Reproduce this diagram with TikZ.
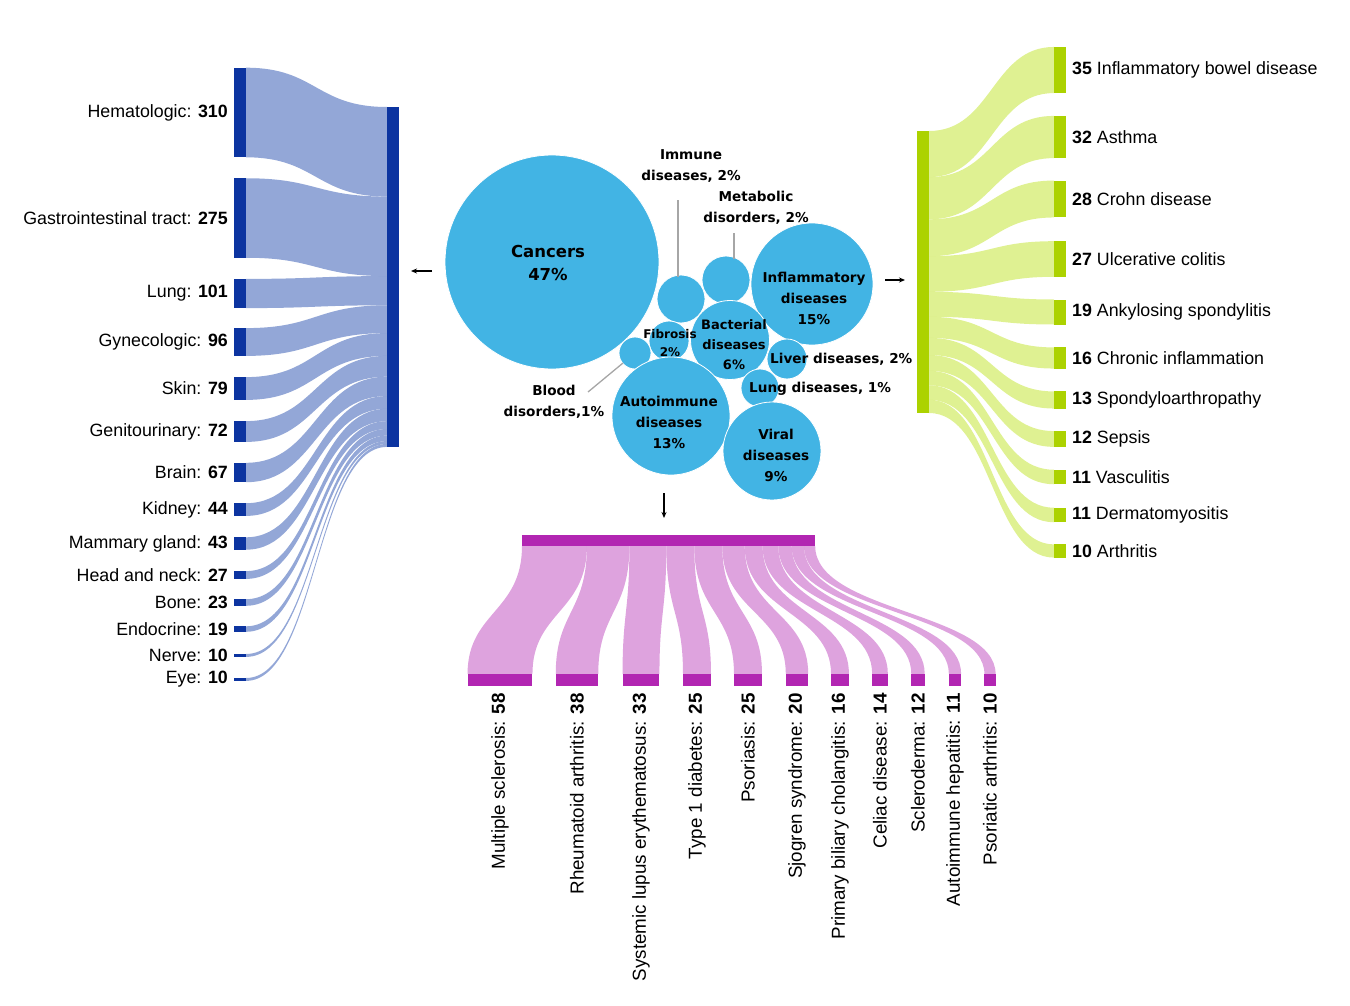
\documentclass[tikz,border=0pt]{standalone}
\usepackage{fontspec}
\setmainfont{Liberation Sans}
\newfontfamily\bub{DejaVu Sans}
\usetikzlibrary{arrows.meta}
\begin{document}
\begin{tikzpicture}[x=1pt,y=-1pt,
  lab/.style={font=\fontsize{17.8}{20}\selectfont, inner sep=1pt},
  blab/.style={font=\fontsize{18.8}{20}\selectfont, inner sep=1pt},
  btxt/.style={font=\bub\bfseries\fontsize{13.6}{21}\selectfont, align=center, inner sep=0pt},
  bub/.style={fill=bubc, draw=white, line width=0.8pt},
  lead/.style={draw=gray!70, line width=1.3pt},
  arr/.style={-{Stealth[length=6pt,width=5pt]}, line width=1.1pt}]
\definecolor{bubc}{RGB}{66,180,228}
\definecolor{lbar}{RGB}{12,52,160}
\definecolor{lflow}{RGB}{120,145,205}
\definecolor{rbar}{RGB}{172,210,0}
\definecolor{rflow}{RGB}{212,236,110}
\definecolor{bbar}{RGB}{178,38,178}
\definecolor{bflow}{RGB}{214,140,214}
\useasboundingbox (0,0) rectangle (1350,1006);
% ---------- left sankey ----------
\foreach \s/\w/\t/\n/\v in {67.7/89.6/107/Hematologic/310, 178.25/79.5/196.6/Gastrointestinal tract/275,
 278.9/29.2/276.1/Lung/101, 328.1/27.8/305.3/Gynecologic/96, 377.1/22.8/333.1/Skin/79,
 421.1/20.8/355.9/Genitourinary/72, 462.8/19.4/376.7/Brain/67, 503.2/12.7/396.1/Kidney/44,
 537.3/12.4/408.8/Mammary gland/43, 571.1/7.8/421.2/Head and neck/27, 599.2/6.6/429.0/Bone/23,
 626.3/5.5/435.6/Endocrine/19, 654/2.9/441.1/Nerve/10, 678/2.9/444.0/Eye/10}{
  \fill[lflow, opacity=0.8] (246,\s) .. controls (316,\s) and (316,\t) .. (387,\t)
     -- (387,\t+\w) .. controls (316,\t+\w) and (316,\s+\w) .. (246,\s+\w) -- cycle;
  \fill[lbar] (234,\s) rectangle (246,\s+\w);
  \node[lab, anchor=east] (l\v) at (229,\s+\w/2) {\n: \textbf{\v}};
}
\node[fill=lbar, minimum width=12pt, minimum height=340pt, inner sep=0pt, anchor=north west] (ltgt) at (387,107) {};
% ---------- right sankey ----------
\foreach \s/\w/\t/\n/\v in {131/46.1/46.95/Inflammatory bowel disease/35, 177.1/42.2/115.9/Asthma/32,
 219.3/36.9/180.55/Crohn disease/28, 256.2/35.6/241.2/Ulcerative colitis/27,
 291.8/25.0/299.5/Ankylosing spondylitis/19, 316.8/21.1/347.45/Chronic inflammation/16,
 337.9/17.1/391.45/Spondyloarthropathy/13, 355.0/15.8/431.1/Sepsis/12, 370.8/14.5/469.75/Vasculitis/11,
 385.3/14.5/507.75/Dermatomyositis/11, 399.8/13.2/544.4/Arthritis/10}{
  \fill[rflow, opacity=0.75] (929,\s) .. controls (992,\s) and (992,\t) .. (1054,\t)
     -- (1054,\t+\w) .. controls (992,\t+\w) and (992,\s+\w) .. (929,\s+\w) -- cycle;
  \fill[rbar] (1054,\t) rectangle (1066,\t+\w);
  \node[lab, anchor=west] (r\n) at (1071,\t+\w/2) {\textbf{\v} \n};
}
\node[fill=rbar, minimum width=12pt, minimum height=282pt, inner sep=0pt, anchor=north west] (rsrc) at (917,131) {};
% ---------- bottom sankey ----------
\foreach \s/\w/\t/\n/\v in {522/64.9/467.55/Multiple sclerosis/58, 586.9/42.5/555.75/Rheumatoid arthritis/38,
 629.4/36.9/622.55/Systemic lupus erythematosus/33, 666.3/28.0/683/Type 1 diabetes/25,
 694.3/28.0/734/Psoriasis/25, 722.3/22.4/785.8/Sjogren syndrome/20,
 744.7/17.9/831.05/Primary biliary cholangitis/16, 762.6/15.7/872.15/Celiac disease/14,
 778.3/13.4/911.3/Scleroderma/12, 791.7/12.3/948.85/Autoimmune hepatitis/11, 804.0/11.2/984.4/Psoriatic arthritis/10}{
  \fill[bflow, opacity=0.8] (\s,546) .. controls (\s,612) and (\t,612) .. (\t,674)
     -- (\t+\w,674) .. controls (\t+\w,612) and (\s+\w,612) .. (\s+\w,546) -- cycle;
  \fill[bbar] (\t,674) rectangle (\t+\w,686);
  \node[blab, anchor=east, rotate=90] (b\n) at (\t+\w/2,692) {\n: \textbf{\v}};
}
\node[fill=bbar, minimum width=293pt, minimum height=11pt, inner sep=0pt, anchor=north west] (bsrc) at (522,535) {};
% ---------- bubbles ----------
\node[bub, circle, minimum size=214pt] (can) at (552,262) {};
\node[bub, circle, minimum size=122pt] (inf) at (812,284) {};
\node[bub, circle, minimum size=48pt] (imm) at (681,299) {};
\node[bub, circle, minimum size=48pt] (met) at (726,280) {};
\node[bub, circle, minimum size=40pt] (fib) at (669,341) {};
\node[bub, circle, minimum size=32pt] (blo) at (635,353) {};
\node[bub, circle, minimum size=79pt] (bac) at (730,340) {};
\node[bub, circle, minimum size=40pt] (liv) at (787,359) {};
\node[bub, circle, minimum size=38pt] (lun) at (760,388) {};
\node[bub, circle, minimum size=118pt] (aut) at (671,416) {};
\node[bub, circle, minimum size=98pt] (vir) at (772,451) {};
\node[btxt, font=\bub\bfseries\fontsize{16.5}{23}\selectfont] (tcan) at (548,263) {Cancers\\47\%};
\node[btxt] (tinf) at (814,298) {Inflammatory\\diseases\\15\%};
\node[btxt, font=\bub\bfseries\fontsize{12}{18}\selectfont] (tfib) at (670,343) {Fibrosis\\2\%};
\node[btxt, font=\bub\bfseries\fontsize{13}{20}\selectfont] (tbac) at (734,345) {Bacterial\\diseases\\6\%};
\node[btxt] (taut) at (669,422) {Autoimmune\\diseases\\13\%};
\node[btxt] (tvir) at (776,455) {Viral\\diseases\\9\%};
\node[btxt, anchor=west] (tliv) at (770,359) {Liver diseases, 2\%};
\node[btxt, anchor=west] (tlun) at (749,389) {Lung diseases, 1\%};
\node[btxt] (timm) at (691,166) {Immune\\diseases, 2\%};
\node[btxt] (tmet) at (756,208) {Metabolic\\disorders, 2\%};
\node[btxt] (tblo) at (554,402) {Blood\\disorders,1\%};
\coordinate (i1) at (678,200); \coordinate (i2) at (678,277);
\coordinate (m1) at (734,233); \coordinate (m2) at (734,259);
\coordinate (b1) at (588,392); \coordinate (b2) at (623,363);
\draw[lead] (i1) -- (i2);
\draw[lead] (m1) -- (m2);
\draw[lead] (b1) -- (b2);
% arrows
\coordinate (a1) at (432,271); \coordinate (a2) at (411,271);
\coordinate (a3) at (885,280); \coordinate (a4) at (905,280);
\coordinate (a5) at (664,493); \coordinate (a6) at (664,518);
\draw[arr] (a1) -- (a2);
\draw[arr] (a3) -- (a4);
\draw[arr] (a5) -- (a6);
\end{tikzpicture}
\end{document}
